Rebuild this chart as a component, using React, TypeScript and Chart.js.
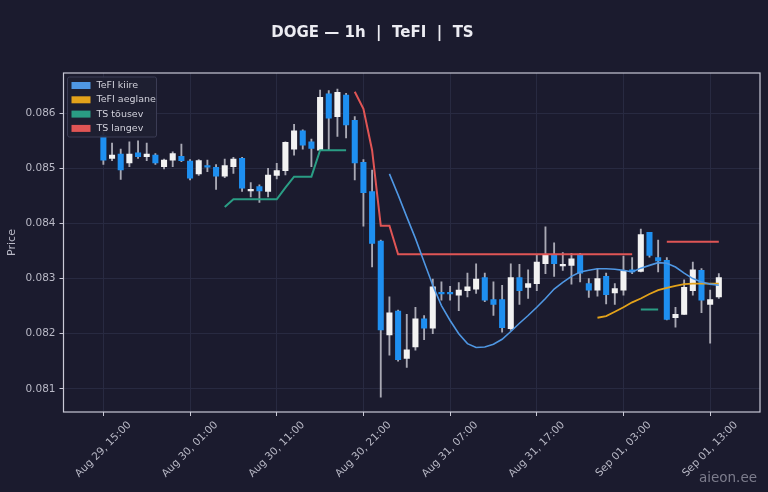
import React, { useEffect, useRef } from "react";
import { Chart, registerables } from "chart.js";

Chart.register(...registerables);

const _ = null;

// x axis: one candle per hour, hour 0 = Aug 29, 15:00
const tickHours = [0, 10, 20, 30, 40, 50, 60, 70];
const tickLabels = [
  "Aug 29, 15:00",
  "Aug 30, 01:00",
  "Aug 30, 11:00",
  "Aug 30, 21:00",
  "Aug 31, 07:00",
  "Aug 31, 17:00",
  "Sep 01, 03:00",
  "Sep 01, 13:00",
];
const priceTicks = [0.081, 0.082, 0.083, 0.084, 0.085, 0.086];

const open = [
  0.0856, 0.08518, 0.08526, 0.0851, 0.08528, 0.08521, 0.08524, 0.08503, 0.08515, 0.08522,
  0.08513, 0.0849, 0.08505, 0.08502, 0.08486, 0.08503, 0.08518, 0.08459, 0.08467, 0.08458,
  0.08487, 0.08496, 0.08535, 0.08568, 0.08548, 0.08533, 0.08635, 0.08594, 0.08633, 0.08587,
  0.08511, 0.08458, 0.08368, 0.08198, 0.08241, 0.08155, 0.08176, 0.08227, 0.0821, 0.08275,
  0.08275, 0.0827, 0.08278, 0.08281, 0.08302, 0.08262, 0.08262, 0.08209, 0.08302, 0.08284,
  0.08291, 0.08327, 0.08342, 0.08323, 0.08324, 0.08342, 0.08291, 0.08279, 0.08304, 0.08274,
  0.08279, 0.08316, 0.08313, 0.08384, 0.08338, 0.08333, 0.08229, 0.08235, 0.08278, 0.08315,
  0.08253, 0.08267,
];
const high = [
  0.08566, 0.08546, 0.08535, 0.08548, 0.0855, 0.08546, 0.08527, 0.08517, 0.0853, 0.08544,
  0.08516, 0.08516, 0.08515, 0.08507, 0.08517, 0.0852, 0.0852, 0.08474, 0.0847, 0.085,
  0.08509, 0.08548, 0.0858, 0.0857, 0.08553, 0.08642, 0.08641, 0.08644, 0.08636, 0.08594,
  0.08516, 0.08497, 0.0837, 0.08267, 0.08243, 0.08235, 0.08248, 0.08233, 0.08299, 0.08294,
  0.08286, 0.08293, 0.0831, 0.08327, 0.0831, 0.08294, 0.08288, 0.08327, 0.08326, 0.08316,
  0.08342, 0.08394, 0.08365, 0.08347, 0.08346, 0.08346, 0.083, 0.08318, 0.0831, 0.08291,
  0.08341, 0.08338, 0.0839, 0.08384, 0.0837, 0.08338, 0.08248, 0.08298, 0.0833, 0.08318,
  0.08279, 0.08309,
];
const low = [
  0.08507, 0.08514, 0.0848, 0.08503, 0.08518, 0.08514, 0.08507, 0.08499, 0.08503, 0.08512,
  0.08479, 0.08487, 0.08494, 0.08462, 0.08483, 0.08491, 0.08458, 0.08448, 0.08438, 0.08448,
  0.08481, 0.08488, 0.08524, 0.08535, 0.08503, 0.08533, 0.08533, 0.08558, 0.08555, 0.08479,
  0.08395, 0.08321, 0.08085, 0.08161, 0.0815, 0.08139, 0.0817, 0.08189, 0.082, 0.08261,
  0.08261, 0.08242, 0.08267, 0.08273, 0.08258, 0.08233, 0.08203, 0.08206, 0.08253, 0.08264,
  0.08278, 0.08309, 0.08304, 0.08315, 0.0829, 0.08294, 0.08266, 0.08268, 0.08254, 0.08253,
  0.0827, 0.08309, 0.08312, 0.08339, 0.08312, 0.08225, 0.08212, 0.08235, 0.0827, 0.08238,
  0.08183, 0.08264,
];
const close = [
  0.08515, 0.08524, 0.08497, 0.08526, 0.08521, 0.08526, 0.0851, 0.08515, 0.08527, 0.08514,
  0.08482, 0.08514, 0.08502, 0.08486, 0.08505, 0.08517, 0.08464, 0.08462, 0.08459, 0.08488,
  0.08496, 0.08547, 0.08568, 0.08542, 0.08536, 0.08629, 0.08591, 0.08638, 0.08579, 0.0851,
  0.08456, 0.08364, 0.08207, 0.08238, 0.08153, 0.08171, 0.08227, 0.0821, 0.08285, 0.08272,
  0.08272, 0.08279, 0.08285, 0.08299, 0.08261, 0.08253, 0.08211, 0.08302, 0.08278, 0.08291,
  0.0833, 0.08342, 0.08327, 0.08325, 0.08336, 0.0831, 0.08279, 0.083, 0.08271, 0.08282,
  0.08314, 0.08312, 0.0838, 0.08342, 0.08332, 0.08226, 0.08235, 0.08284, 0.08316, 0.08261,
  0.08262, 0.08302,
];

const tefiFast = [
  _, _, _, _, _, _, _, _, _, _,
  _, _, _, _, _, _, _, _, _, _,
  _, _, _, _, _, _, _, _, _, _,
  _, _, _, 0.0849, 0.08452, 0.08412, 0.08373, 0.0833, 0.08288, 0.08251,
  0.08224, 0.082, 0.08182, 0.08175, 0.08176, 0.08181, 0.0819, 0.08204, 0.08219, 0.08233,
  0.08248, 0.08264, 0.08281, 0.08293, 0.08304, 0.08312, 0.08315, 0.08318, 0.08318, 0.08317,
  0.08315, 0.08312, 0.08319, 0.08324, 0.08329, 0.08328, 0.08321, 0.0831, 0.083, 0.08294,
  0.0829, 0.08288,
];
const tefiSlow = [
  _, _, _, _, _, _, _, _, _, _,
  _, _, _, _, _, _, _, _, _, _,
  _, _, _, _, _, _, _, _, _, _,
  _, _, _, _, _, _, _, _, _, _,
  _, _, _, _, _, _, _, _, _, _,
  _, _, _, _, _, _, _, 0.08229, 0.08232, 0.0824,
  0.08248, 0.08257, 0.08264, 0.08272, 0.08279, 0.08283, 0.08287, 0.0829, 0.08291, 0.08291,
  0.08291, 0.08291,
];
const tsUp = [
  _, _, _, _, _, _, _, _, _, _,
  _, _, _, _, 0.0843, 0.08444, 0.08444, 0.08444, 0.08444, 0.08444,
  0.08444, 0.08465, 0.08485, 0.08485, 0.08485, 0.08533, 0.08533, 0.08533, 0.08533, _,
  _, _, _, _, _, _, _, _, _, _,
  _, _, _, _, _, _, _, _, _, _,
  _, _, _, _, _, _, _, _, _, _,
  _, _, 0.08244, 0.08244, 0.08244, _, _, _, _, _,
  _, _,
];
const tsDown = [
  _, _, _, _, _, _, _, _, _, _,
  _, _, _, _, _, _, _, _, _, _,
  _, _, _, _, _, _, _, _, _, 0.08639,
  0.08608, 0.08533, 0.08396, 0.08396, 0.08344, 0.08344, 0.08344, 0.08344, 0.08344, 0.08344,
  0.08344, 0.08344, 0.08344, 0.08344, 0.08344, 0.08344, 0.08344, 0.08344, 0.08344, 0.08344,
  0.08344, 0.08344, 0.08344, 0.08344, 0.08344, 0.08344, 0.08344, 0.08344, 0.08344, 0.08344,
  0.08344, 0.08344, _, _, _, 0.08367, 0.08367, 0.08367, 0.08367, 0.08367,
  0.08367, 0.08367,
];

const FONT = "'DejaVu Sans', sans-serif";
const BG = "#1b1b2e";
const GRID = "#282a41";
const FRAME = "#c9c9d6";
const TEXT = "#b9b9c6";
const UP = "#f2f2f2";
const DOWN = "#1e8ff0";
const WICK = "#a9a9b4";

const series = [
  { label: "TeFI kiire", data: tefiFast, color: "#4f97e3", width: 1.6 },
  { label: "TeFI aeglane", data: tefiSlow, color: "#e3a21a", width: 1.8 },
  { label: "TS tõusev", data: tsUp, color: "#2a9d84", width: 2 },
  { label: "TS langev", data: tsDown, color: "#e05555", width: 2 },
];

const decor = {
  id: "decor",
  beforeDraw(chart: any) {
    const { ctx, width, height } = chart;
    ctx.save();
    ctx.fillStyle = BG;
    ctx.fillRect(0, 0, width, height);
    ctx.restore();
  },
  afterDatasetsDraw(chart: any) {
    const { ctx, chartArea: a } = chart;
    ctx.save();
    ctx.strokeStyle = FRAME;
    ctx.lineWidth = 1.2;
    ctx.strokeRect(a.left, a.top, a.right - a.left, a.bottom - a.top);

    // legend box, top left inside the plot
    const lx = a.left + 4;
    const ly = a.top + 4;
    ctx.fillStyle = "rgba(30,31,50,0.92)";
    ctx.strokeStyle = "#3b3c54";
    ctx.lineWidth = 1;
    ctx.beginPath();
    ctx.roundRect(lx, ly, 89, 60, 2);
    ctx.fill();
    ctx.stroke();
    ctx.font = `9.5px ${FONT}`;
    ctx.textBaseline = "middle";
    ctx.textAlign = "left";
    series.forEach((s, i) => {
      const cy = ly + 8.5 + i * 14.3;
      ctx.fillStyle = s.color;
      ctx.fillRect(lx + 4, cy - 3.5, 19, 7);
      ctx.fillStyle = "#d2d2dc";
      ctx.fillText(s.label, lx + 29, cy);
    });
    ctx.restore();
  },
  afterDraw(chart: any) {
    const { ctx, chartArea: a, scales } = chart;
    ctx.save();
    ctx.fillStyle = "#ececf2";
    ctx.font = `bold 15px ${FONT}`;
    ctx.textAlign = "center";
    ctx.textBaseline = "middle";
    ctx.fillText("DOGE — 1h  |  TeFI  |  TS", 372.5, 33);

    // rotated x tick labels, centred under the tick like the original
    ctx.font = `10.5px ${FONT}`;
    ctx.fillStyle = TEXT;
    const y0 = a.bottom + 7;
    tickHours.forEach((h, i) => {
      const px = scales.x.getPixelForValue(h);
      const w = ctx.measureText(tickLabels[i]).width;
      const half = ((w + 12) * Math.SQRT1_2) / 2;
      ctx.save();
      ctx.translate(px, y0 + half);
      ctx.rotate(-Math.PI / 4);
      ctx.fillText(tickLabels[i], 0, 0);
      ctx.restore();
    });

    ctx.font = `13.5px ${FONT}`;
    ctx.fillStyle = "rgba(190,190,204,0.6)";
    ctx.textAlign = "right";
    ctx.textBaseline = "alphabetic";
    ctx.fillText("aieon.ee", 757, 482);
    ctx.restore();
  },
};

export default function App() {
  const ref = useRef<HTMLCanvasElement | null>(null);

  useEffect(() => {
    if (!ref.current) return;
    const idx = open.map((_v, i) => i);
    const isUp = idx.map((i) => close[i] >= open[i]);

    const chart = new Chart(ref.current, {
      type: "bar",
      data: {
        datasets: [
          ...series.map((s) => ({
            type: "line" as const,
            label: s.label,
            data: s.data.map((v, i) => ({ x: i, y: v })),
            borderColor: s.color,
            borderWidth: s.width,
            pointRadius: 0,
            spanGaps: false,
            tension: 0,
            order: 0,
          })),
          {
            type: "bar" as const,
            label: "body",
            data: idx.map((i) => ({ x: i, y: [open[i], close[i]] })),
            backgroundColor: idx.map((i) => (isUp[i] ? UP : DOWN)),
            borderWidth: 0,
            barThickness: 5.4,
            minBarLength: 1.5,
            grouped: false,
            order: 1,
          },
          {
            type: "bar" as const,
            label: "wick",
            data: idx.map((i) => ({ x: i, y: [low[i], high[i]] })),
            backgroundColor: WICK,
            borderWidth: 0,
            barThickness: 1.2,
            grouped: false,
            order: 2,
          },
        ],
      } as any,
      options: {
        animation: false,
        responsive: true,
        maintainAspectRatio: false,
        layout: { padding: { top: 73, right: 8, left: 0, bottom: 0 } },
        plugins: {
          legend: { display: false },
          tooltip: { enabled: false },
        },
        scales: {
          x: {
            type: "linear",
            min: -4.6,
            max: 75.75,
            offset: false,
            afterBuildTicks: (axis: any) => {
              axis.ticks = tickHours.map((v) => ({ value: v }));
            },
            afterFit: (axis: any) => {
              axis.height = 80;
            },
            ticks: { display: false },
            grid: { color: GRID, tickColor: FRAME, tickLength: 4, offset: false },
            border: { display: false },
          },
          y: {
            min: 0.08058,
            max: 0.08673,
            afterBuildTicks: (axis: any) => {
              axis.ticks = priceTicks.map((v) => ({ value: v }));
            },
            afterFit: (axis: any) => {
              axis.width = 63.5;
            },
            ticks: {
              color: TEXT,
              font: { family: FONT, size: 10.5 },
              padding: 4,
              callback: (v: any) => Number(v).toFixed(3),
            },
            grid: { color: GRID, tickColor: FRAME, tickLength: 4 },
            border: { display: false },
            title: {
              display: true,
              text: "Price",
              color: TEXT,
              font: { family: FONT, size: 11 },
              padding: { top: 6, bottom: 0 },
            },
          },
        },
      } as any,
      plugins: [decor],
    });

    return () => chart.destroy();
  }, []);

  return (
    <div style={{ position: "fixed", left: 0, top: 0, width: 768, height: 492, background: BG }}>
      <canvas ref={ref} />
    </div>
  );
}
